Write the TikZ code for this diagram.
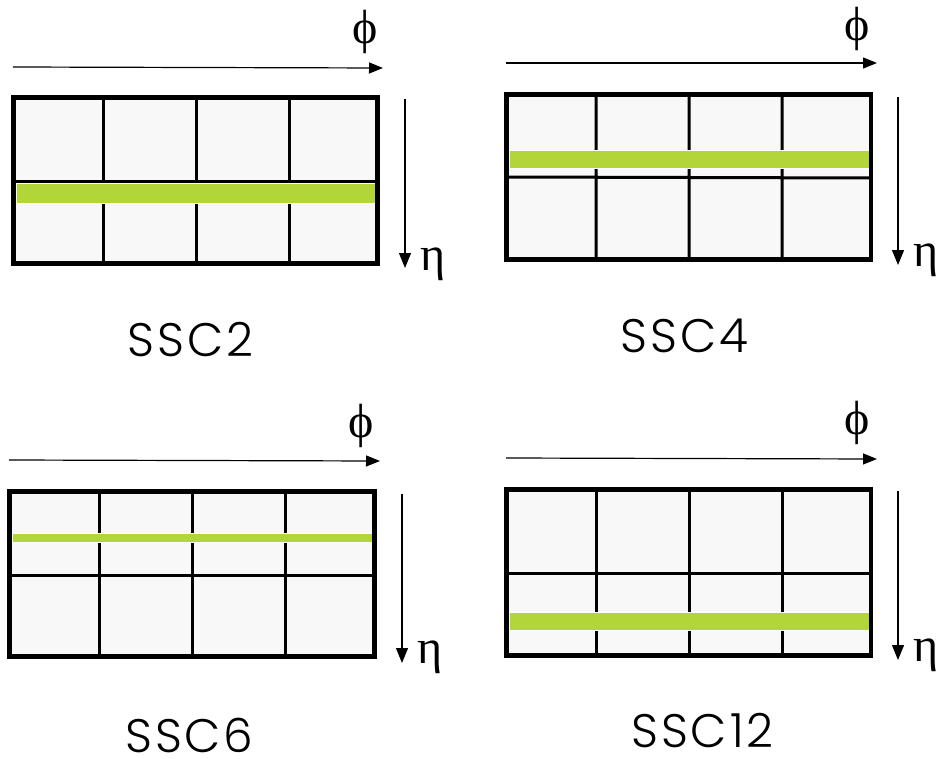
\documentclass[tikz,border=0pt]{standalone}
\usepackage{fontspec}
\setmainfont{Poppins Light}[LetterSpace=6]
\newfontfamily\greekfont{Liberation Serif}
\usetikzlibrary{arrows.meta}
\definecolor{cellgrey}{RGB}{248,248,248}
\definecolor{barlime}{RGB}{178,214,58}
\tikzset{
  cellfill/.style={fill=cellgrey},
  gridline/.style={line width=3pt},
  frame/.style={line width=4.2pt},
  bar/.style={fill=barlime, draw=white, line width=0.6pt},
  axisphi/.style={line width=1.2pt, -{Triangle[length=14pt,width=11pt]}},
  axiseta/.style={line width=1.2pt, -{Triangle[length=15pt,width=12pt]}},
  greek/.style={font=\greekfont\fontsize{48}{48}\selectfont, inner sep=0pt},
  caption/.style={font=\fontsize{47}{47}\selectfont, inner sep=0pt},
}
\begin{document}
\begin{tikzpicture}[x=1pt,y=-1pt]
\useasboundingbox (0,0) rectangle (941,759);

% ---------- SSC2 ----------
\fill[cellfill] (13.5,97.5) rectangle (377.5,263.5);
\draw[gridline] (103,97.5) -- (103,263.5) (196,97.5) -- (196,263.5) (289,97.5) -- (289,263.5)
  (13.5,182) -- (377.5,182);
\filldraw[bar] (16,183) rectangle (376,203);
\draw[frame] (13.5,97.5) rectangle (377.5,263.5);
\coordinate (phiA1) at (13,67);
\coordinate (phiB1) at (383,68);
\draw[axisphi] (phiA1) -- (phiB1);
\coordinate (etaA1) at (405,99);
\coordinate (etaB1) at (405,268);
\draw[axiseta] (etaA1) -- (etaB1);
\node[greek] (phi1) at (365,31.5) {ϕ};
\node[greek] (eta1) at (433.5,264) {η};
\node[caption] (ssc2) at (190.5,340) {SSC2};

% ---------- SSC4 ----------
\fill[cellfill] (506.5,94.5) rectangle (871,259.5);
\draw[gridline] (596,94.5) -- (596,259.5) (689,94.5) -- (689,259.5) (782,94.5) -- (782,259.5)
  (506.5,177) -- (871,178);
\filldraw[bar] (509,150) rectangle (869,168);
\draw[frame] (506.5,94.5) rectangle (871,259.5);
\coordinate (phiA2) at (506,63);
\coordinate (phiB2) at (877,63);
\draw[axisphi] (phiA2) -- (phiB2);
\coordinate (etaA2) at (898,97);
\coordinate (etaB2) at (898,265);
\draw[axiseta] (etaA2) -- (etaB2);
\node[greek] (phi2) at (857,28.5) {ϕ};
\node[greek] (eta2) at (926,260) {η};
\node[caption] (ssc4) at (684.5,336) {SSC4};

% ---------- SSC6 ----------
\fill[cellfill] (9.5,491.5) rectangle (374.5,656.5);
\draw[gridline] (99,491.5) -- (99,656.5) (192,491.5) -- (192,656.5) (285,491.5) -- (285,656.5)
  (9.5,575) -- (374.5,575);
\filldraw[bar] (12,533.5) rectangle (372,542);
\draw[frame] (9.5,491.5) rectangle (374.5,656.5);
\coordinate (phiA3) at (9,460);
\coordinate (phiB3) at (380,461);
\draw[axisphi] (phiA3) -- (phiB3);
\coordinate (etaA3) at (402,494);
\coordinate (etaB3) at (402,663);
\draw[axiseta] (etaA3) -- (etaB3);
\node[greek] (phi3) at (361,425.5) {ϕ};
\node[greek] (eta3) at (430,657.5) {η};
\node[caption] (ssc6) at (189.5,735) {SSC6};

% ---------- SSC12 ----------
\fill[cellfill] (506.5,489.5) rectangle (871,655.5);
\draw[gridline] (596,489.5) -- (596,655.5) (689,489.5) -- (689,655.5) (782,489.5) -- (782,655.5)
  (506.5,573) -- (871,573);
\filldraw[bar] (509,612) rectangle (869,630);
\draw[frame] (506.5,489.5) rectangle (871,655.5);
\coordinate (phiA4) at (506,458);
\coordinate (phiB4) at (877,459);
\draw[axisphi] (phiA4) -- (phiB4);
\coordinate (etaA4) at (898,491);
\coordinate (etaB4) at (898,660);
\draw[axiseta] (etaA4) -- (etaB4);
\node[greek] (phi4) at (857,423) {ϕ};
\node[greek] (eta4) at (926,655) {η};
\node[caption] (ssc12) at (702.5,731) {SSC12};
\end{tikzpicture}
\end{document}
